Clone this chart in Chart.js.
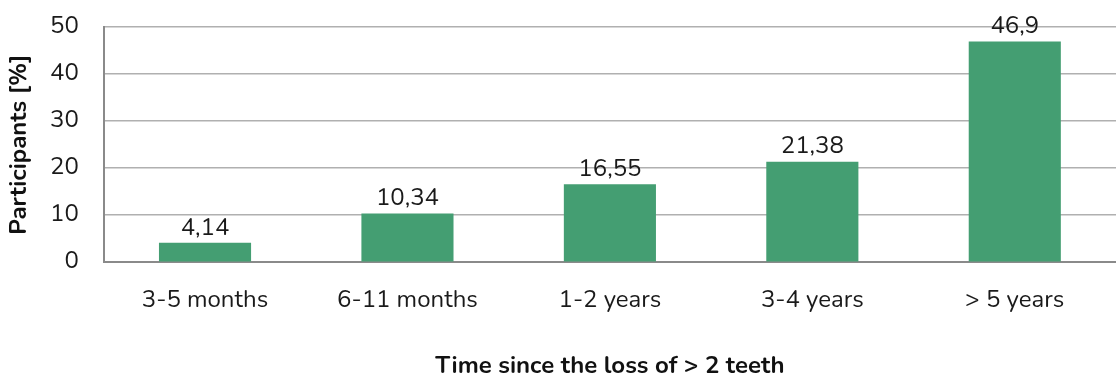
<!DOCTYPE html>
<html><head><meta charset="utf-8">
<script src="https://cdn.jsdelivr.net/npm/chart.js@4/dist/chart.umd.min.js"></script>
<style>html,body{margin:0;padding:0;background:#fff;overflow:hidden}#wrap{width:1116px;height:374px;position:relative}</style>
</head><body><div id="wrap"><canvas id="c"></canvas></div>
<script>
const categories = ["3-5 months", "6-11 months", "1-2 years", "3-4 years", "> 5 years"];
const participants = [4.14, 10.34, 16.55, 21.38, 46.9];
const yTicks = [0, 10, 20, 30, 40, 50];
const FONT = "'Nunito','Open Sans','Liberation Sans',sans-serif";

const labelPlugin = {
  id: 'valLabels',
  afterDatasetsDraw(chart) {
    const ctx = chart.ctx;
    const meta = chart.getDatasetMeta(0);
    ctx.save();
    ctx.font = "24px " + FONT;
    ctx.fillStyle = "#1a1a1a";
    ctx.textAlign = "center";
    ctx.textBaseline = "bottom";
    meta.data.forEach((bar, i) => {
      ctx.fillText(String(participants[i]).replace('.', ','), bar.x, bar.y - 2);
    });
    ctx.restore();
  }
};

new Chart(document.getElementById('c'), {
  type: 'bar',
  data: { labels: categories, datasets: [{ data: participants, backgroundColor: '#449E72', barPercentage: 1, categoryPercentage: 0.455 }] },
  options: {
    responsive: true, maintainAspectRatio: false, animation: false,
    layout: { padding: { top: 27, right: 0, left: 8, bottom: 0 } },
    plugins: { legend: { display: false }, tooltip: { enabled: false } },
    scales: {
      x: {
        grid: { display: false, drawTicks: false },
        border: { display: true, color: '#8a8a8a', width: 2 },
        ticks: { color: '#1a1a1a', font: { family: FONT, size: 24 }, padding: 25, maxRotation: 0 },
        title: { display: true, text: 'Time since the loss of > 2 teeth', color: '#111', font: { family: FONT, size: 24, weight: 'bold', lineHeight: 1.0 }, padding: { top: 14, bottom: -5 } }
      },
      y: {
        min: 0, max: 50,
        afterBuildTicks(axis) { axis.ticks = yTicks.map(v => ({ value: v })); },
        afterFit(axis) { axis.paddingTop = 0; axis.paddingBottom = 0; },
        grid: { color: '#b0b0b0', lineWidth: 1.5, drawTicks: false },
        border: { display: true, color: '#8a8a8a', width: 2 },
        ticks: { color: '#1a1a1a', font: { family: FONT, size: 24 }, padding: 25 },
        title: { display: true, text: 'Participants [%]', color: '#111', font: { family: FONT, size: 24, weight: 'bold', lineHeight: 1.0 }, padding: { top: 0, bottom: -7 } }
      }
    }
  },
  plugins: [labelPlugin]
});
</script></body></html>
